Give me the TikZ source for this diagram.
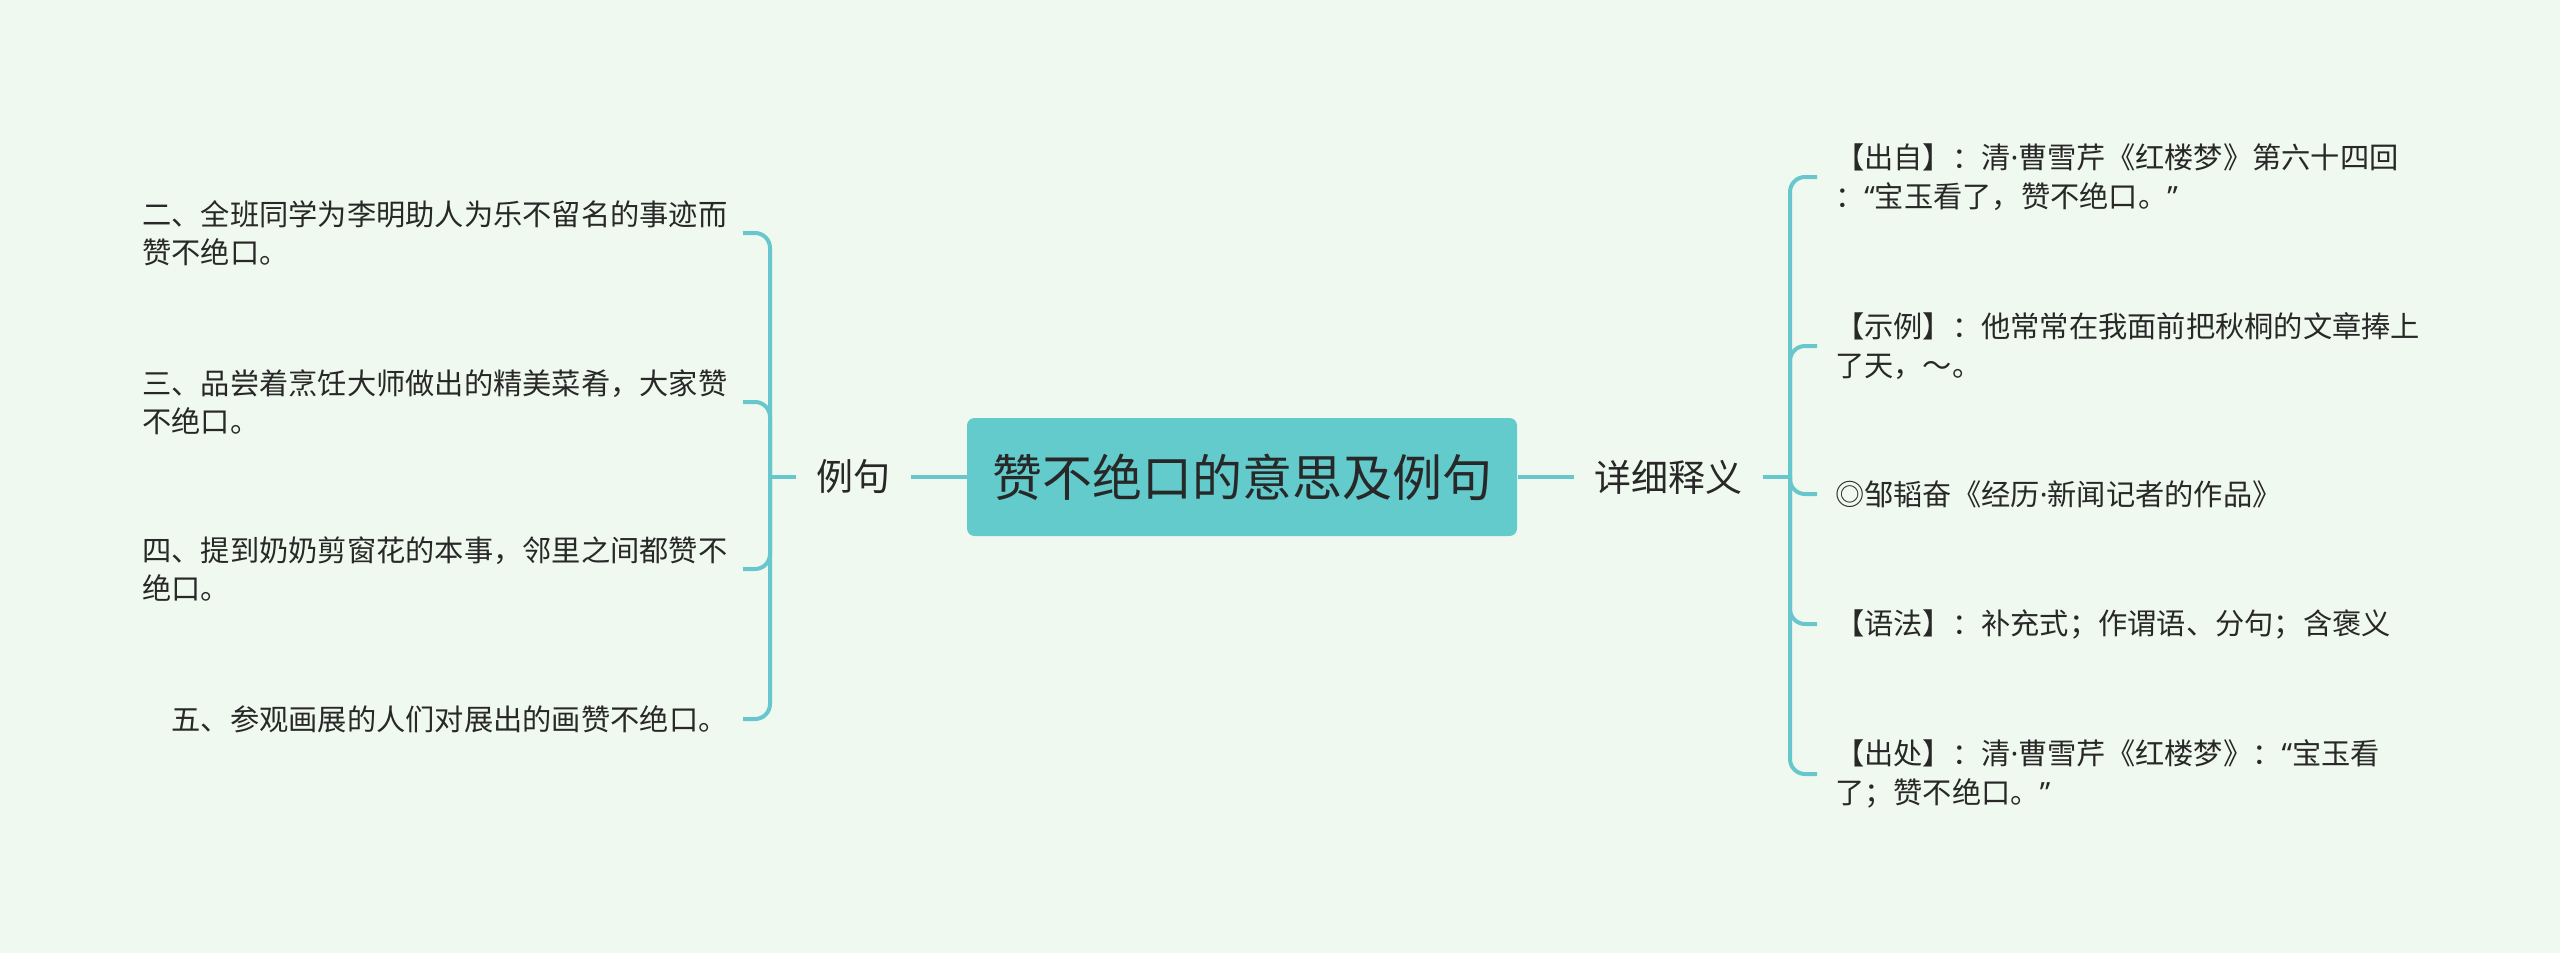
\documentclass[tikz,border=0pt]{standalone}
\usepackage{fontspec}
\setmainfont{Noto Sans CJK SC}
\newfontfamily\westpunct{Noto Sans}
\newcommand{\ndot}{{\westpunct ·}}
\newcommand{\oquote}{{\westpunct “}}
\newcommand{\cquote}{{\westpunct ”}}
\usetikzlibrary{positioning}
\definecolor{bgmint}{RGB}{240,249,239}
\definecolor{mapteal}{RGB}{99,203,204}
\definecolor{linkteal}{RGB}{103,199,204}
\definecolor{inkgray}{RGB}{40,40,40}

\begin{document}
\begin{tikzpicture}[x=0.4pt,y=-0.4pt,
        every node/.style={text=inkgray},
        root/.style={fill=mapteal,rounded corners=3pt,minimum width=220pt,minimum height=47.2pt,font=\fontsize{20}{24}\selectfont},
        topic/.style={inner xsep=8pt,font=\fontsize{14.8}{18}\selectfont},
        leaf/.style={align=left,inner xsep=6pt,font=\fontsize{11.7}{15.4}\selectfont},
        link/.style={draw=linkteal,line width=1.6pt},
        bracket/.style={link,rounded corners=6pt}]
        \fill[bgmint] (0,0) rectangle (2560,953);
        \useasboundingbox (0,0) rectangle (2560,953);
        % centre and the two topics
        \node[root] (root) at (1242,477) {赞不绝口的意思及例句};
        \node[topic] (liju) at (853,477) {例句};
        \node[topic] (shiyi) at (1668,477) {详细释义};
        \coordinate (jl) at (770,477);
        \coordinate (jr) at (1790,477);
        \draw[link] (root) -- (liju);
        \draw[link] (root) -- (shiyi);
        \draw[link] (liju) -- (jl);
        \draw[link] (shiyi) -- (jr);
        % examples
        \node[leaf,anchor=east] (l1) at (743,233) {二、全班同学为李明助人为乐不留名的事迹而\\赞不绝口。};
        \node[leaf,anchor=east] (l2) at (743,402) {三、品尝着烹饪大师做出的精美菜肴，大家赞\\不绝口。};
        \node[leaf,anchor=east] (l3) at (743,569) {四、提到奶奶剪窗花的本事，邻里之间都赞不\\绝口。};
        \node[leaf,anchor=east] (l4) at (743,719) {五、参观画展的人们对展出的画赞不绝口。};
        \foreach \n in {l1,l2,l3,l4}
            \draw[bracket] (jl) |- (\n.east);
        % explanation
        \node[leaf,anchor=west,inner xsep=7pt] (r1) at (1817,177) {【出自】：清\ndot 曹雪芹《红楼梦》第六十四回\\：\oquote 宝玉看了，赞不绝口。\cquote};
        \node[leaf,anchor=west,inner xsep=7pt] (r2) at (1817,346) {【示例】：他常常在我面前把秋桐的文章捧上\\了天，～。};
        \node[leaf,anchor=west,inner xsep=7pt] (r3) at (1817,494) {◎邹韬奋《经历\ndot 新闻记者的作品》};
        \node[leaf,anchor=west,inner xsep=7pt] (r4) at (1817,624) {【语法】：补充式；作谓语、分句；含褒义};
        \node[leaf,anchor=west,inner xsep=7pt] (r5) at (1817,774) {【出处】：清\ndot 曹雪芹《红楼梦》：\oquote 宝玉看\\了；赞不绝口。\cquote};
        \foreach \n in {r1,r2,r3,r4,r5}
            \draw[bracket] (jr) |- (\n.west);
    \end{tikzpicture}
\end{document}
